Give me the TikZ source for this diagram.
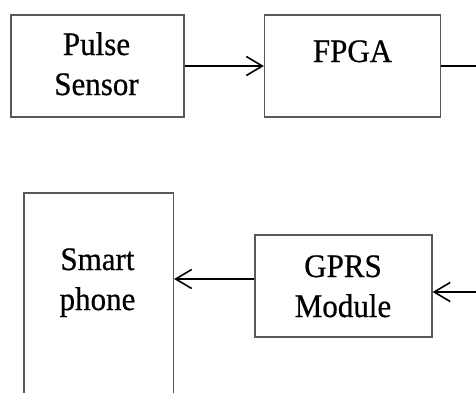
\documentclass[tikz,border=0pt]{standalone}
\usepackage{fontspec}
\setmainfont{Liberation Serif}[FakeBold=0.6]
\usetikzlibrary{arrows.meta}
\begin{document}
\begin{tikzpicture}[x=1pt,y=-1pt,
  blockbox/.style={draw=black!65, line width=1.2pt, inner sep=0pt, rectangle},
  conn/.style={draw=black, line width=1.6pt},
  arr/.style={conn, -{Straight Barb[length=16pt,width=19pt,line width=1.6pt]}},
  lbl/.style={anchor=base, inner sep=0pt, font=\fontsize{31}{40}\selectfont}
]
\useasboundingbox (0,0) rectangle (476,392);
\clip (0,0) rectangle (476,392);

% boxes
\node[blockbox, minimum width=173pt, minimum height=102pt] (pulse) at (97.5,66) {};
\node[blockbox, minimum width=176pt, minimum height=102pt] (fpga) at (352.5,66) {};
\node[blockbox, minimum width=177pt, minimum height=102pt] (gprs) at (343.5,286) {};
\node[blockbox, minimum width=149.5pt, minimum height=227pt] (phone) at (98.75,306.5) {};

% texts
\node[lbl] (pulset) at (96.5,55) {\begin{tabular}[t]{@{}c@{}}\scalebox{1}[1.06]{Pulse}\\\scalebox{1}[1.06]{Sensor}\end{tabular}};
\node[lbl] (fpgat) at (352.5,62) {\scalebox{1}[1.06]{FPGA}};
\node[lbl] (gprst) at (343,277) {\begin{tabular}[t]{@{}c@{}}\scalebox{1}[1.06]{GPRS}\\\scalebox{1}[1.06]{Module}\end{tabular}};
\node[lbl] (phonet) at (97.5,270) {\begin{tabular}[t]{@{}c@{}}\scalebox{1}[1.06]{Smart}\\\scalebox{1}[1.06]{phone}\end{tabular}};

% connectors
\coordinate (fout) at (480,66);
\coordinate (gin) at (480,292);
\coordinate (gout) at ([yshift=7pt]gprs.west);

\draw[arr] (pulse) -- (fpga);
\draw[conn] (fpga.east) -- (fout);
\draw[arr] (gin) -- (gin -| gprs.east);
\draw[arr] (gout) -- (gout -| phone.east);
\end{tikzpicture}
\end{document}
